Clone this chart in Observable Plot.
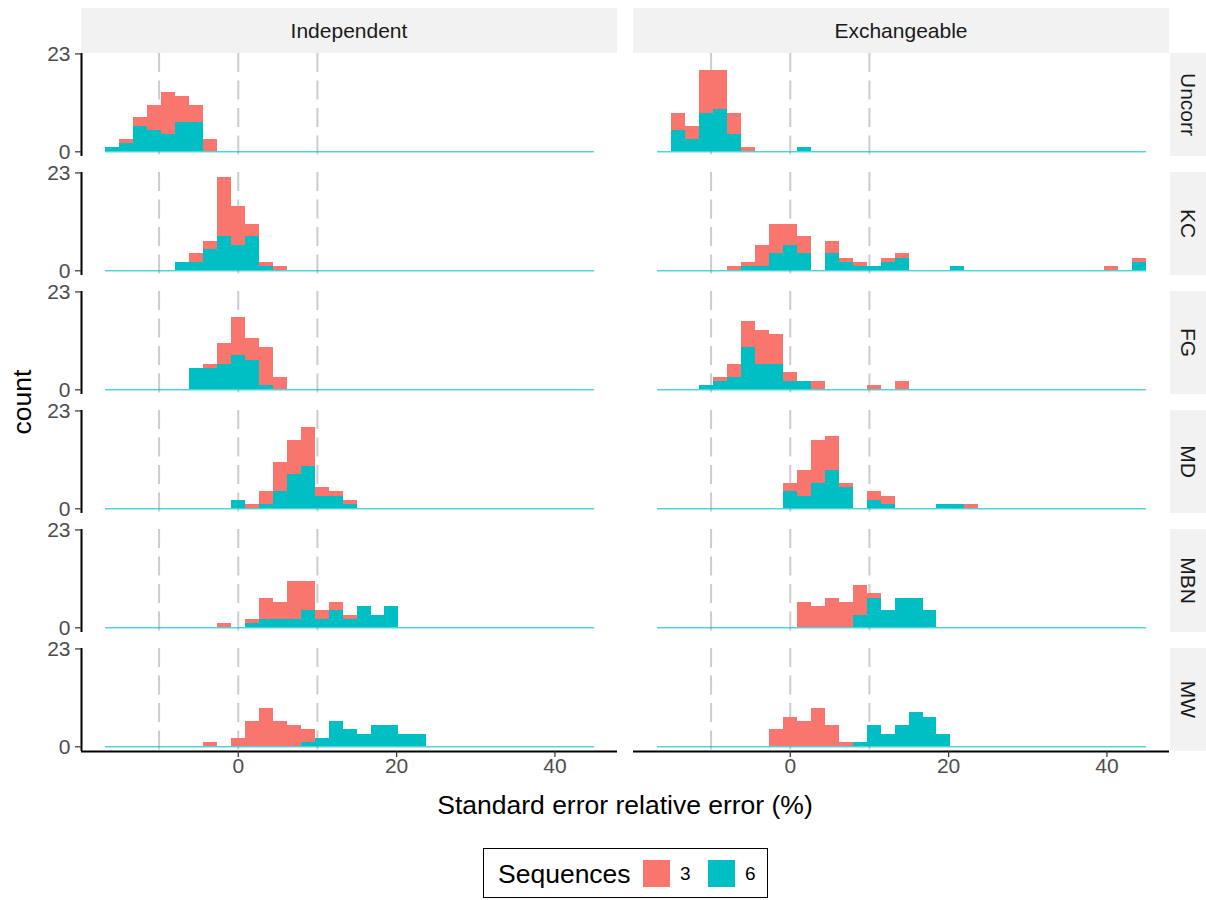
<!DOCTYPE html>
<html><head><meta charset="utf-8">
<script src="https://cdn.jsdelivr.net/npm/d3@7"></script>
<script src="https://cdn.jsdelivr.net/npm/@observablehq/plot@0.6"></script>
<style>
body{margin:0;background:#fff;font-family:"Liberation Sans",Arial,Helvetica,sans-serif;}
#wrap{position:relative;width:1206px;height:900px;overflow:hidden;}
#chart{position:absolute;left:0;top:0;}
.lg{position:absolute;}
</style></head><body><div id="wrap"><div id="chart"></div><div id="legend"></div></div>
<script>
// ---- data (counts per histogram bin, bin 0 starts at left edge, bin 9 is centred on 0%) ----
const binWidth = 1.765;
const zeroBin = 9;
const nBins = 35;
const cols = ["Independent", "Exchangeable"];
const rows = ["Uncorr", "KC", "FG", "MD", "MBN", "MW"];
const seqs = ["3", "6"];
const seqColors = ["#F8766D", "#00BFC4"];
const refLines = [-10, 0, 10];
const xTicks = [0, 20, 40];
const yTicks = [0, 23];
const xDomain = [-19.8, 47.9];
const yDomain = [-1.1, 23.1];

const uncorrInd3 = [0,1,2,6,10,6,4,3];
const uncorrInd6 = [1,2,6,5,4,7,7,0];
const uncorrExc3 = [0,4,3,10,9,5,1];
const uncorrExc6 = [0,5,3,9,10,4,0,0,0,0,1];
const kcInd3 = [0,0,0,0,0,0,2,2,14,9,3,1,1];
const kcInd6 = [0,0,0,0,0,2,2,5,8,6,8,1,0];
const kcExc3 = [0,0,0,0,0,1,1,5,7,5,4,0,3,1,1,0,1,1,0,0,0,0,0,0,0,0,0,0,0,0,0,0,1,0,1];
const kcExc6 = [0,0,0,0,0,0,1,1,4,6,4,0,4,2,1,1,2,3,0,0,0,1,0,0,0,0,0,0,0,0,0,0,0,0,2];
const fgInd3 = [0,0,0,0,0,0,0,1,5,9,5,9,3];
const fgInd6 = [0,0,0,0,0,0,5,5,6,8,7,1];
const fgExc3 = [0,0,0,0,1,3,6,8,7,2,0,2,0,0,0,1,0,2];
const fgExc6 = [0,0,0,1,2,3,10,6,6,2,2];
const mdInd3 = [0,0,0,0,0,0,0,0,0,0,1,3,7,8,9,2,1,1];
const mdInd6 = [0,0,0,0,0,0,0,0,0,2,0,1,4,8,10,3,3,1];
const mdExc3 = [0,0,0,0,0,0,0,0,0,2,6,10,8,1,0,2,2,0,0,0,0,0,1];
const mdExc6 = [0,0,0,0,0,0,0,0,0,4,3,6,9,5,0,2,1,0,0,0,1,1];
const mbnInd3 = [0,0,0,0,0,0,0,0,1,0,1,5,4,9,7,2,2,1];
const mbnInd6 = [0,0,0,0,0,0,0,0,0,0,1,2,2,2,4,2,4,2,5,3,5];
const mbnExc3 = [0,0,0,0,0,0,0,0,0,0,6,5,7,6,7,1];
const mbnExc6 = [0,0,0,0,0,0,0,0,0,0,0,0,0,0,3,7,4,7,7,4];
const mwInd3 = [0,0,0,0,0,0,0,1,0,2,6,9,6,5,3];
const mwInd6 = [0,0,0,0,0,0,0,0,0,0,0,0,0,0,1,2,6,4,3,5,5,3,3];
const mwExc3 = [0,0,0,0,0,0,0,0,4,7,6,9,5,1];
const mwExc6 = [0,0,0,0,0,0,0,0,0,0,0,0,0,0,1,5,3,5,8,7,3];

const panels = [
  ["Uncorr","Independent",uncorrInd3,uncorrInd6],["Uncorr","Exchangeable",uncorrExc3,uncorrExc6],
  ["KC","Independent",kcInd3,kcInd6],["KC","Exchangeable",kcExc3,kcExc6],
  ["FG","Independent",fgInd3,fgInd6],["FG","Exchangeable",fgExc3,fgExc6],
  ["MD","Independent",mdInd3,mdInd6],["MD","Exchangeable",mdExc3,mdExc6],
  ["MBN","Independent",mbnInd3,mbnInd6],["MBN","Exchangeable",mbnExc3,mbnExc6],
  ["MW","Independent",mwInd3,mwInd6],["MW","Exchangeable",mwExc3,mwExc6]
];
const edge = k => (k - zeroBin - 0.5) * binWidth;
const bars = [];
for (const [row, col, c3, c6] of panels) {
  for (const [seq, counts] of [["6", c6], ["3", c3]]) {
    counts.forEach((n, k) => { if (n > 0) bars.push({row, col, seq, n, x1: edge(k), x2: edge(k + 1)}); });
  }
}
const leftAxis = rows.map(r => ({row: r, col: cols[0]}));
const bottomAxis = cols.map(c => ({row: rows[rows.length - 1], col: c}));

const W = 1206, H = 830;
const plot = Plot.plot({
  width: W, height: H,
  marginTop: 52.5, marginBottom: 78.5, marginLeft: 80, marginRight: 36,
  style: {fontFamily: "Liberation Sans, Arial, Helvetica, sans-serif", background: "#ffffff", overflow: "visible"},
  fx: {domain: cols, axis: null, paddingInner: 0.0289, paddingOuter: 0},
  fy: {domain: rows, axis: null, paddingInner: 0.131, paddingOuter: 0},
  x: {domain: xDomain},
  y: {domain: yDomain},
  color: {domain: seqs, range: seqColors},
  marks: [
    Plot.ruleX(refLines, {stroke: "#cccccc", strokeWidth: 2, strokeDasharray: "19,8.5"}),
    Plot.ruleY([0], {x1: edge(0), x2: edge(nBins), stroke: "#00BFC4", strokeWidth: 1}),
    Plot.rectY(bars, {x1: "x1", x2: "x2", y: "n", fill: "seq", fx: "col", fy: "row", shapeRendering: "crispEdges"}),
    Plot.ruleX(leftAxis, {x: () => xDomain[0], fx: "col", fy: "row", stroke: "#000000", strokeWidth: 2}),
    Plot.ruleY(bottomAxis, {y: () => yDomain[0], fx: "col", fy: "row", stroke: "#000000", strokeWidth: 1.8}),
    Plot.axisY({ticks: yTicks, anchor: "left", facetAnchor: "left", tickSize: 6, tickPadding: 5, fontSize: 21, stroke: "#333333", fill: "#4d4d4d", strokeWidth: 1.2, label: null}),
    Plot.axisX({ticks: xTicks, anchor: "bottom", facetAnchor: "bottom", tickSize: 6, tickPadding: 1, fontSize: 21, stroke: "#333333", fill: "#4d4d4d", strokeWidth: 1.2, label: null})
  ]
});
document.getElementById("chart").appendChild(plot);

// ---- strips and axis titles, positioned from the facet scales ----
const svg = d3.select(plot);
let sfx, sfy;
try { sfx = plot.scale("fx"); sfy = plot.scale("fy"); } catch (e) {}
const fxPos = c => sfx ? sfx.apply(c) : (c === cols[0] ? 80 : 633);
const fxBw = sfx ? sfx.bandwidth : 537;
const fyPos = r => sfy ? sfy.apply(r) : 52.5 + rows.indexOf(r) * 119.1;
const fyBw = sfy ? sfy.bandwidth : 103.5;
const stripTop = 8, plotTop = fyPos(rows[0]), stripRightX = W - 36;
const g = svg.append("g").attr("font-family", "Liberation Sans, Arial, Helvetica, sans-serif");
for (const c of cols) {
  g.append("rect").attr("x", fxPos(c)).attr("y", stripTop).attr("width", fxBw).attr("height", plotTop - stripTop).attr("fill", "#f2f2f2");
  g.append("text").attr("x", fxPos(c) + fxBw / 2).attr("y", (stripTop + plotTop) / 2).attr("dy", "0.35em")
    .attr("text-anchor", "middle").attr("font-size", 21).attr("fill", "#1a1a1a").text(c);
}
for (const r of rows) {
  g.append("rect").attr("x", stripRightX).attr("y", fyPos(r)).attr("width", 36).attr("height", fyBw).attr("fill", "#f2f2f2");
  const cx = stripRightX + 18, cy = fyPos(r) + fyBw / 2;
  g.append("text").attr("transform", `translate(${cx},${cy}) rotate(90)`).attr("dy", "0.35em")
    .attr("text-anchor", "middle").attr("font-size", 21).attr("fill", "#1a1a1a").text(r);
}
const xMid = (fxPos(cols[0]) + fxPos(cols[1]) + fxBw) / 2;
g.append("text").attr("x", xMid).attr("y", 805).attr("dy", "0.35em").attr("text-anchor", "middle")
  .attr("font-size", 26.5).attr("fill", "#000").text("Standard error relative error (%)");
const yMid = (fyPos(rows[0]) + fyPos(rows[rows.length - 1]) + fyBw) / 2;
g.append("text").attr("transform", `translate(22,${yMid}) rotate(-90)`).attr("dy", "0.35em").attr("text-anchor", "middle")
  .attr("font-size", 26.5).attr("fill", "#000").text("count");

// ---- legend (HTML, below the SVG) ----
const lg = document.getElementById("legend");
lg.innerHTML = `
<div class="lg" style="left:483px;top:848px;width:285px;height:50px;border:1.5px solid #000;box-sizing:border-box;"></div>
<div class="lg" style="left:498px;top:858px;font-size:26.5px;line-height:32px;color:#000;">Sequences</div>
<div class="lg" style="left:643px;top:860px;width:27px;height:27px;background:${seqColors[0]};"></div>
<div class="lg" style="left:680px;top:862px;font-size:19px;line-height:24px;color:#000;">${seqs[0]}</div>
<div class="lg" style="left:708px;top:860px;width:27px;height:27px;background:${seqColors[1]};"></div>
<div class="lg" style="left:745px;top:862px;font-size:19px;line-height:24px;color:#000;">${seqs[1]}</div>`;
</script>
</body></html>
